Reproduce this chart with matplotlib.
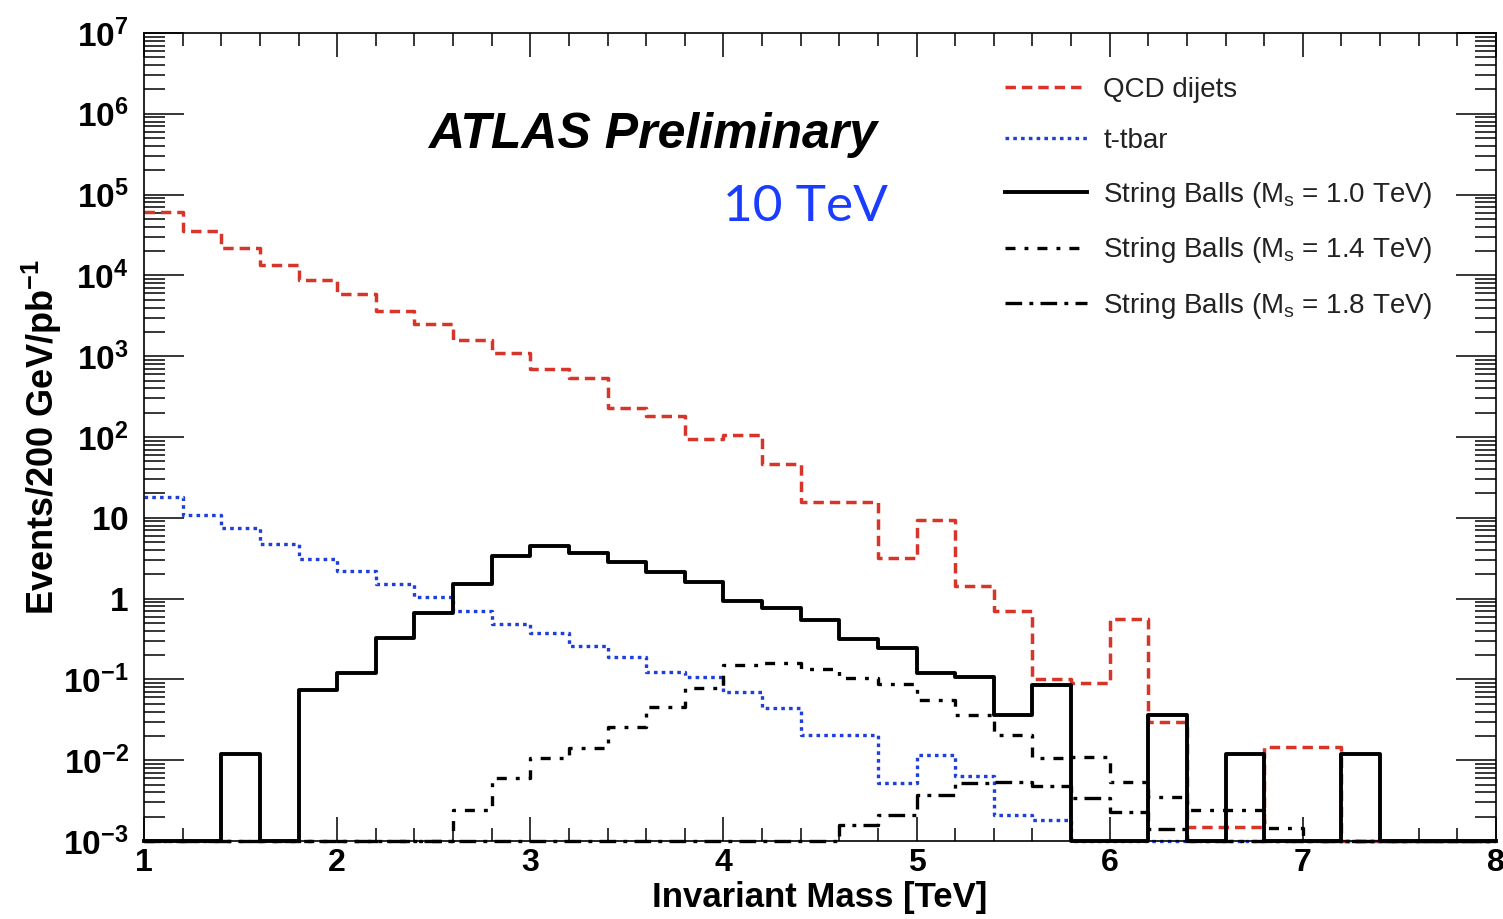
import numpy as np
import matplotlib
matplotlib.use('Agg')
import matplotlib.pyplot as plt
from matplotlib.ticker import FixedLocator, FixedFormatter, MultipleLocator, LogLocator, NullFormatter

plt.rcParams['font.family'] = ['Liberation Sans', 'DejaVu Sans']
plt.rcParams['mathtext.fontset'] = 'custom'
plt.rcParams['mathtext.rm'] = 'Liberation Sans'
plt.rcParams['mathtext.bf'] = 'Liberation Sans:bold'
plt.rcParams['mathtext.it'] = 'Liberation Sans:italic'
plt.rcParams['lines.scale_dashes'] = False

# 200 GeV bins from 1 to 8 TeV
mass_edges = np.round(np.linspace(1.0, 8.0, 36), 2)

qcd_dijets = [6.1e4, 3.5e4, 2.2e4, 1.35e4, 8.8e3, 5.9e3, 3.6e3, 2.5e3, 1.6e3, 1.08e3,
              690, 530, 230, 184, 95, 105, 46, 15.6, 15.6, 3.2,
              9.4, 1.45, 0.71, 0.1, 0.09, 0.56, 0.030, 0.0015, 0.0015, 0.0147,
              0.0147, 0, 0, 0, 0]
ttbar = [18.2, 10.8, 7.4, 4.7, 3.06, 2.2, 1.52, 1.04, 0.71, 0.485,
         0.38, 0.26, 0.19, 0.125, 0.108, 0.070, 0.044, 0.0205, 0.0205, 0.0052,
         0.0116, 0.0063, 0.0021, 0.0018, 0, 0, 0, 0, 0, 0,
         0, 0, 0, 0, 0]
sb_10 = [0, 0, 0.0118, 0, 0.074, 0.12, 0.33, 0.67, 1.50, 3.37,
         4.48, 3.70, 2.86, 2.15, 1.62, 0.93, 0.77, 0.54, 0.316, 0.243,
         0.119, 0.106, 0.036, 0.085, 0, 0, 0.036, 0, 0.0118, 0,
         0, 0.0118, 0, 0, 0]
sb_14 = [0, 0, 0, 0, 0, 0, 0, 0, 0.0024, 0.006,
         0.0105, 0.014, 0.026, 0.046, 0.078, 0.151, 0.158, 0.135, 0.103, 0.088,
         0.056, 0.036, 0.0205, 0.0105, 0.011, 0.0054, 0.0035, 0.0024, 0.0024, 0.00145,
         0, 0, 0, 0, 0]
sb_18 = [0, 0, 0, 0, 0, 0, 0, 0, 0, 0,
         0, 0, 0, 0, 0, 0, 0, 0, 0.0016, 0.0021,
         0.0037, 0.0052, 0.0054, 0.0048, 0.0034, 0.0023, 0.0014, 0, 0, 0,
         0, 0, 0, 0, 0]

legend_labels = ['QCD dijets', 't-tbar',
                 r'String Balls (M$_{\rm s}$ = 1.0 TeV)',
                 r'String Balls (M$_{\rm s}$ = 1.4 TeV)',
                 r'String Balls (M$_{\rm s}$ = 1.8 TeV)']

xtick_values = [1, 2, 3, 4, 5, 6, 7, 8]
xtick_labels = ['1', '2', '3', '4', '5', '6', '7', '8']
ytick_values = [1e-3, 1e-2, 1e-1, 1, 10, 1e2, 1e3, 1e4, 1e5, 1e6, 1e7]
ytick_labels = [r'$\mathbf{10^{-3}}$', r'$\mathbf{10^{-2}}$', r'$\mathbf{10^{-1}}$',
                r'$\mathbf{1}$', r'$\mathbf{10}$', r'$\mathbf{10^{2}}$', r'$\mathbf{10^{3}}$',
                r'$\mathbf{10^{4}}$', r'$\mathbf{10^{5}}$', r'$\mathbf{10^{6}}$',
                r'$\mathbf{10^{7}}$']

Y_MIN, Y_MAX = 1e-3, 1e7


def draw_hist(ax, values, label, **style):
    # empty bins sit on the lower edge of the log axis
    v = np.clip(np.asarray(values, dtype=float), Y_MIN, None)
    ax.step(mass_edges, np.append(v, v[-1]), where='post', label=label,
            clip_on=False, **style)


fig = plt.figure(figsize=(15.03, 9.19), dpi=100)
ax = fig.add_axes([144 / 1503, 1 - 841 / 919, 1352 / 1503, 808 / 919])

draw_hist(ax, qcd_dijets, legend_labels[0], color='#d8352a', lw=2.5,
          dashes=(7.5, 4.3))
draw_hist(ax, ttbar, legend_labels[1], color='#1f3fdc', lw=2.4,
          dashes=(2.6, 3.0))
draw_hist(ax, sb_10, legend_labels[2], color='black', lw=2.8)
draw_hist(ax, sb_14, legend_labels[3], color='black', lw=2.4,
          dashes=(7.2, 6.5, 2.8, 6.5))
draw_hist(ax, sb_18, legend_labels[4], color='black', lw=2.4,
          dashes=(12.0, 5.2, 2.8, 5.2))

ax.set_xlim(1, 8)
ax.set_yscale('log')
ax.set_ylim(Y_MIN, Y_MAX)

ax.xaxis.set_major_locator(FixedLocator(xtick_values))
ax.xaxis.set_major_formatter(FixedFormatter(xtick_labels))
ax.xaxis.set_minor_locator(MultipleLocator(0.2))
ax.yaxis.set_major_locator(FixedLocator(ytick_values))
ax.yaxis.set_major_formatter(FixedFormatter(ytick_labels))
ax.yaxis.set_minor_locator(LogLocator(base=10, subs=np.arange(2, 10), numticks=30))
ax.yaxis.set_minor_formatter(NullFormatter())

ax.tick_params(which='both', direction='in', top=True, right=True, width=1.1)
ax.tick_params(axis='x', which='major', length=17, pad=5, labelsize=23)
ax.tick_params(axis='x', which='minor', length=9.5)
ax.tick_params(axis='y', which='major', length=29, pad=11, labelsize=24)
ax.tick_params(axis='y', which='minor', length=15)
for lab in ax.get_xticklabels():
    lab.set_fontweight('bold')
for s in ax.spines.values():
    s.set_linewidth(1.2)

ax.set_xlabel('Invariant Mass [TeV]', fontsize=25, fontweight='bold')
ax.xaxis.set_label_coords(0.5, -0.050)
ax.set_ylabel(r'Events/200 GeV/pb$^{\mathbf{-1}}$', fontsize=26, fontweight='bold')
ax.yaxis.set_label_coords(-0.059, 0.5)

ax.text(0.210, 0.8735, 'ATLAS Preliminary', transform=ax.transAxes,
        fontsize=36, fontweight='bold', fontstyle='italic', ha='left', va='center')
ax.text(0.4285, 0.785, '10 TeV', transform=ax.transAxes, family='Lato',
        fontsize=37, color='#1a3cff', ha='left', va='center')

ax.legend(loc='upper left', bbox_to_anchor=(0.637, 0.946), frameon=False,
          fontsize=20, handlelength=2.95, handletextpad=0.58, labelspacing=0.92,
          borderpad=0, borderaxespad=0, labelcolor='#222222')

fig.savefig('out.png', dpi=100, facecolor='white')
